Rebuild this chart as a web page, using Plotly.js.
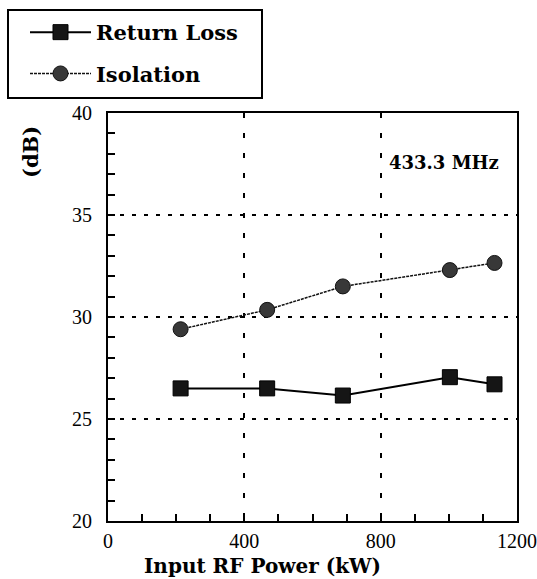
<!DOCTYPE html>
<html>
<head>
<meta charset="utf-8">
<script src="https://cdn.plot.ly/plotly-3.0.1.min.js"></script>
<style>html,body{margin:0;padding:0;background:#fff;}#chart{width:537px;height:579px;}</style>
</head>
<body>
<div id="chart"></div>
<script>
const powerKW = [213, 467, 689, 1003, 1134];
const returnLoss = [26.5, 26.5, 26.15, 27.05, 26.7];
const isolation = [29.4, 30.35, 31.5, 32.3, 32.65];
const xTicks = [0, 400, 800, 1200];
const yTicks = [20, 25, 30, 35, 40];
const seriesNames = ['Return Loss', 'Isolation'];
const freqLabel = '433.3 MHz';
const xTitle = 'Input RF Power (kW)';
const yTitle = '(dB)';

const boldFont = 'DejaVu Serif';
const tickFont = {family: 'Liberation Serif', size: 20, color: '#000'};

// pixel -> paper helpers for the plot area (l=108, w=409, t=113, h=408)
const px = v => (v - 108) / 409;
const py = v => (521 - v) / 408;

const traces = [
  {
    x: powerKW, y: returnLoss, name: seriesNames[0], mode: 'lines+markers',
    legendgroup: 'a',
    line: {color: '#000', width: 2},
    marker: {symbol: 'square', size: 15, color: '#151515', line: {color: '#000', width: 1}}
  },
  {
    x: powerKW, y: isolation, name: seriesNames[1], mode: 'lines+markers',
    legendgroup: 'b',
    line: {color: '#111', width: 1.5, dash: '3px,1px'},
    marker: {symbol: 'circle', size: 15, color: '#383838', line: {color: '#111', width: 1}}
  }
];

const layout = {
  width: 537, height: 579,
  margin: {l: 108, r: 20, t: 113, b: 58},
  paper_bgcolor: '#fff', plot_bgcolor: '#fff',
  showlegend: true,
  legend: {
    x: px(25), y: py(12), xanchor: 'left', yanchor: 'top',
    bgcolor: 'rgba(0,0,0,0)', borderwidth: 0,
    font: {family: boldFont, size: 21, color: '#000', weight: 'bold'},
    itemwidth: 61, tracegroupgap: 11, traceorder: 'grouped'
  },
  shapes: [
    {type: 'rect', xref: 'paper', yref: 'paper', x0: px(8), x1: px(262), y0: py(98), y1: py(10),
     line: {color: '#000', width: 2}, fillcolor: 'rgba(0,0,0,0)', layer: 'above'}
  ],
  xaxis: {
    range: [0, 1200], tickvals: xTicks, ticktext: xTicks.map(String),
    tickfont: tickFont, ticks: 'inside', ticklen: 7, tickwidth: 2, tickcolor: '#000',
    ticklabelstandoff: 1, ticklabeloverflow: 'allow',
    showline: true, linecolor: '#000', linewidth: 2, mirror: true,
    showgrid: true, gridcolor: '#000', gridwidth: 2, griddash: '5px,15px',
    minor: {dtick: 100, ticks: 'inside', ticklen: 7, tickwidth: 2, tickcolor: '#000', showgrid: false},
    zeroline: false, fixedrange: true
  },
  yaxis: {
    range: [20, 40], tickvals: yTicks, ticktext: yTicks.map(String),
    tickfont: tickFont, ticks: 'inside', ticklen: 7, tickwidth: 2, tickcolor: '#000',
    ticklabelstandoff: 10, ticklabeloverflow: 'allow',
    showline: true, linecolor: '#000', linewidth: 2, mirror: true,
    showgrid: true, gridcolor: '#000', gridwidth: 2, griddash: '4px,8px',
    minor: {dtick: 1, ticks: 'inside', ticklen: 7, tickwidth: 2, tickcolor: '#000', showgrid: false},
    zeroline: false, fixedrange: true
  },
  annotations: [
    {text: '<b>' + freqLabel + '</b>', xref: 'paper', yref: 'paper', x: px(501), y: py(162),
     xanchor: 'right', yanchor: 'middle', showarrow: false,
     font: {family: boldFont, size: 18, color: '#000'}},
    {text: '<b>' + xTitle + '</b>', xref: 'paper', yref: 'paper', x: px(262), y: py(566),
     xanchor: 'center', yanchor: 'middle', showarrow: false, borderpad: 0,
     font: {family: boldFont, size: 20, color: '#000'}},
    {text: '<b>' + yTitle + '</b>', xref: 'paper', yref: 'paper', x: px(30), y: py(152),
     xanchor: 'center', yanchor: 'middle', showarrow: false, textangle: -90,
     font: {family: boldFont, size: 21, color: '#000'}}
  ]
};

Plotly.newPlot('chart', traces, layout, {displayModeBar: false, staticPlot: true});
</script>
</body>
</html>
